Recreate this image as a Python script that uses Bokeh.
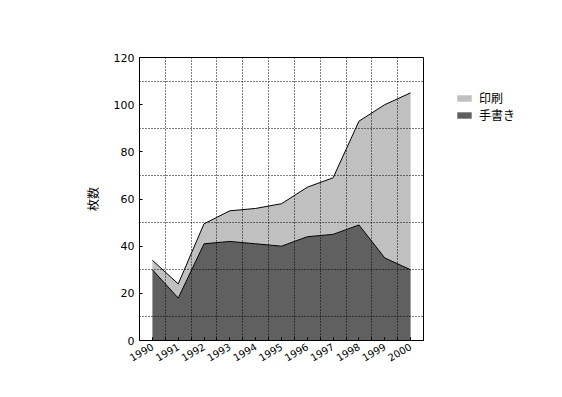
import math
from bokeh.plotting import figure
from bokeh.models import (ColumnDataSource, FixedTicker, Legend, LegendItem,
                          SingleIntervalTicker, Range1d)
from bokeh.embed import file_html
from bokeh.resources import INLINE

years = [1990, 1991, 1992, 1993, 1994, 1995, 1996, 1997, 1998, 1999, 2000]
handwritten = [30, 18, 41, 42, 41, 40, 44, 45, 49, 35, 30]
printed = [4, 6, 8.5, 13, 15, 18, 21, 24, 44, 65, 75]
y_ticks = [0, 20, 40, 60, 80, 100, 120]
y_label = "枚数"
series_names = ["印刷", "手書き"]

total = [h + p for h, p in zip(handwritten, printed)]
zeros = [0] * len(years)
src = ColumnDataSource(dict(x=years, hw=handwritten, tot=total, z=zeros))

FONT = "DejaVu Sans"
JP = "Noto Sans CJK JP"

p = figure(frame_width=284, frame_height=283, output_backend="svg", toolbar_location=None,
           x_range=Range1d(1989.5, 2000.5), y_range=Range1d(0, 120),
           min_border_left=139, min_border_right=139,
           min_border_top=57, min_border_bottom=57)

light = "#c0c0c0"
dark = "#606060"

r_print = p.varea(x="x", y1="hw", y2="tot", source=src, fill_color=light)
r_hand = p.varea(x="x", y1="z", y2="hw", source=src, fill_color=dark)
p.line(x="x", y="tot", source=src, line_color="black", line_width=1)
p.line(x="x", y="hw", source=src, line_color="black", line_width=1)

# grid
p.xgrid.ticker = FixedTicker(ticks=[y + 0.5 for y in years[:-1]])
p.ygrid.ticker = FixedTicker(ticks=[10, 30, 50, 70, 90, 110])
for g in (p.xgrid, p.ygrid):
    g.grid_line_color = "black"
    g.grid_line_dash = "1 2"
    g.grid_line_width = 1
    g.level = "overlay"

p.outline_line_color = "black"
p.outline_line_width = 1
p.background_fill_color = None

p.xaxis.ticker = SingleIntervalTicker(interval=1, num_minor_ticks=2)
p.yaxis.ticker = FixedTicker(ticks=y_ticks)
for ax in (p.xaxis, p.yaxis):
    ax.axis_line_color = "black"
    ax.major_tick_in = 3
    ax.major_tick_out = 0
    ax.minor_tick_in = 3
    ax.minor_tick_out = 0
    ax.major_label_text_font = FONT
    ax.major_label_text_font_size = "11px"
    ax.major_label_text_color = "black"
    ax.major_tick_line_color = "black"
    ax.minor_tick_line_color = "black"
p.xaxis.major_label_text_font_size = "10px"
p.yaxis.minor_tick_line_color = None
p.xaxis.major_label_orientation = math.pi / 6
p.yaxis.axis_label = y_label
p.yaxis.axis_label_text_font = JP
p.yaxis.axis_label_text_font_style = "normal"
p.yaxis.axis_label_text_font_size = "12px"
p.yaxis.axis_label_text_color = "black"
p.yaxis.axis_label_standoff = 10

legend = Legend(items=[LegendItem(label=series_names[0], renderers=[r_print]),
                       LegendItem(label=series_names[1], renderers=[r_hand])])
legend.label_text_font = JP
legend.label_text_font_size = "12px"
legend.label_text_color = "black"
legend.glyph_width = 18
legend.glyph_height = 8
legend.label_height = 12
legend.spacing = 0
legend.padding = 0
legend.margin = 0
legend.label_standoff = 6
legend.border_line_color = None
legend.background_fill_color = None
legend.location = (32, 217)
p.add_layout(legend, "right")

open("out.html", "w").write(file_html(p, INLINE))
